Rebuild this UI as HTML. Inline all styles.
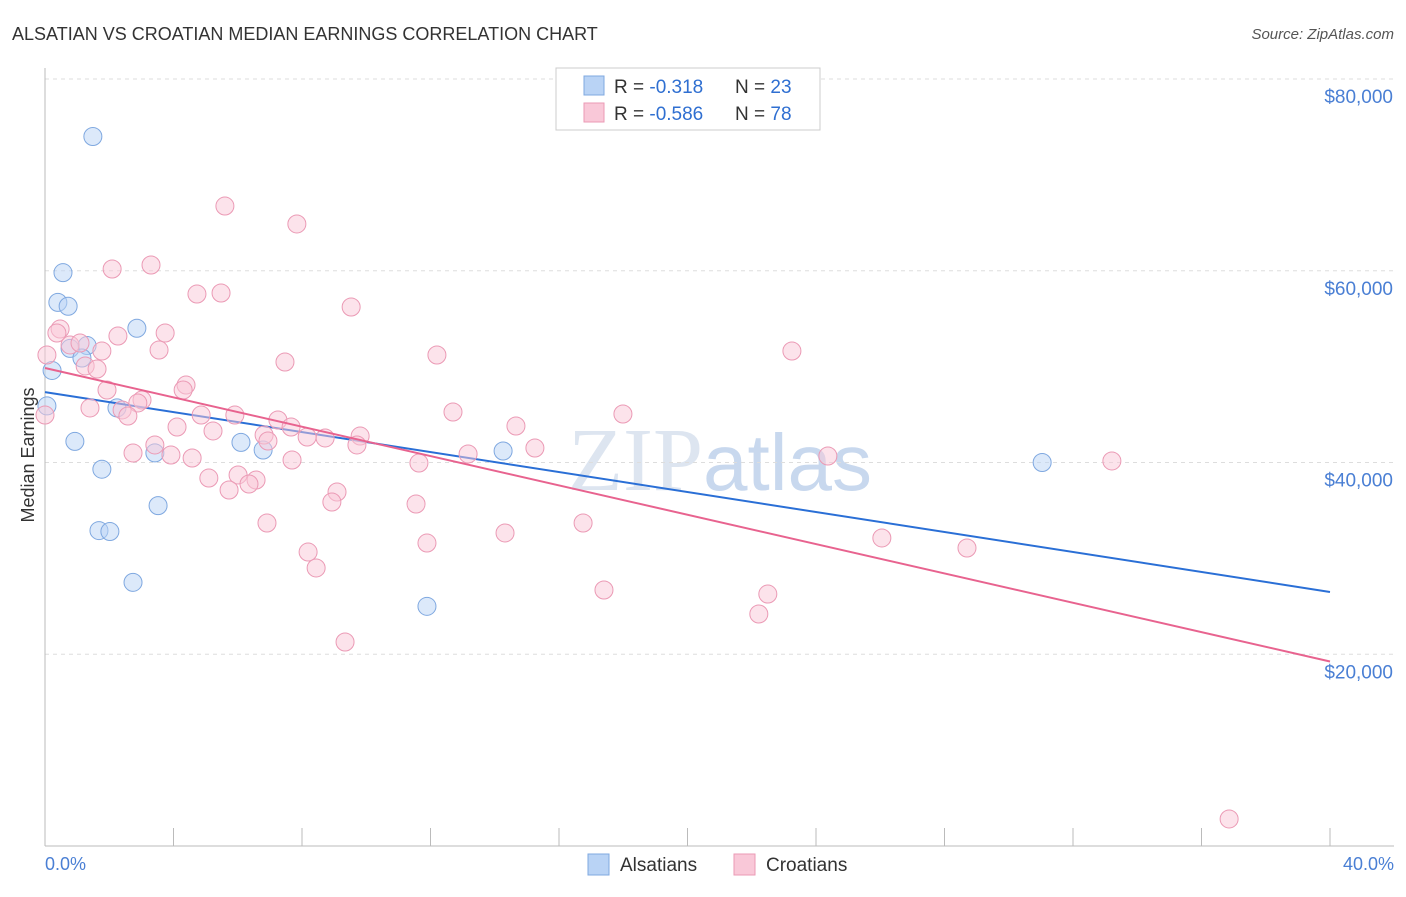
<!DOCTYPE html>
<html><head><meta charset="utf-8"><style>
body{margin:0;background:#fff;font-family:"Liberation Sans",sans-serif}
</style></head><body>
<svg id="c" width="1406" height="892" xmlns="http://www.w3.org/2000/svg">
<text x="12" y="40" font-size="18" fill="#333">ALSATIAN VS CROATIAN MEDIAN EARNINGS CORRELATION CHART</text>
<text x="1394" y="39" font-size="15" fill="#555" font-style="italic" text-anchor="end">Source: ZipAtlas.com</text>
<text x="720" y="490" font-size="90" fill="#dde5f0" text-anchor="middle" font-family="Liberation Serif">ZIP<tspan fill="#c8d8ee" font-family="Liberation Sans" font-size="80">atlas</tspan></text>
<g id="grid"></g><g id="axes"></g><g id="pts"></g>
<text transform="translate(34,455) rotate(-90)" font-size="18" fill="#333" text-anchor="middle">Median Earnings</text>
<text x="45" y="870" font-size="18" fill="#4a7fd4">0.0%</text>
<text x="1394" y="870" font-size="18" fill="#4a7fd4" text-anchor="end">40.0%</text>
<g>
<rect x="556" y="68" width="264" height="62" fill="#fff" stroke="#ccc"/>
<rect x="584" y="76" width="20" height="19" fill="#b9d3f5" stroke="#7fa8e0"/>
<rect x="584" y="103" width="20" height="19" fill="#f9c8d8" stroke="#eb9ab5"/>
<text x="614" y="93" font-size="19" fill="#333">R = <tspan fill="#2f6fd1">-0.318</tspan><tspan x="735">N = </tspan><tspan fill="#2f6fd1">23</tspan></text>
<text x="614" y="120" font-size="19" fill="#333">R = <tspan fill="#2f6fd1">-0.586</tspan><tspan x="735">N = </tspan><tspan fill="#2f6fd1">78</tspan></text>
</g>
<g>
<rect x="588" y="854" width="21" height="21" fill="#b9d3f5" stroke="#7fa8e0"/>
<text x="620" y="871" font-size="19" fill="#333">Alsatians</text>
<rect x="734" y="854" width="21" height="21" fill="#f9c8d8" stroke="#eb9ab5"/>
<text x="766" y="871" font-size="19" fill="#333">Croatians</text>
</g>
</svg>
<script>
const yTicks=[20000,40000,60000,80000];
const yTickLabels=["$20,000","$40,000","$60,000","$80,000"];
const blueX=[1.49,0.56,0.40,0.72,2.86,1.31,0.78,1.15,0.22,0.06,2.24,0.93,6.10,3.42,6.79,14.26,1.77,3.52,1.68,2.02,2.74,11.89,31.04];
const blueY=[74000,59800,56700,56300,54000,52200,51900,50900,49600,45900,45700,42200,42100,41000,41300,41200,39300,35500,32900,32800,27500,25000,40000];
const pinkX=[5.60,7.84,3.30,2.09,4.73,5.48,9.53,0.47,2.27,3.74,0.37,0.78,1.09,1.77,3.55,12.20,23.25,7.47,1.25,1.62,1.93,4.39,4.30,3.02,2.89,1.40,2.40,2.58,4.86,5.91,7.25,7.66,4.11,5.23,12.70,14.66,17.99,6.82,6.94,8.16,8.72,9.81,9.71,15.25,13.17,3.42,2.74,3.92,4.58,7.69,11.64,24.37,33.21,5.10,6.01,6.57,6.35,5.73,9.09,8.93,11.55,16.75,6.91,11.89,14.32,26.05,28.70,8.19,8.44,17.40,22.50,22.22,9.34,36.86,0,0.06];
const pinkY=[66750,64880,60600,60180,57570,57680,56220,53920,53190,53510,53510,52260,52460,51630,51730,51210,51630,50480,50070,49750,47560,48080,47560,46520,46210,45690,45480,44850,44950,44950,44430,43700,43700,43290,45270,43810,45060,42870,42240,42660,42560,42760,41830,41510,40890,41830,40990,40780,40470,40260,39950,40680,40160,38380,38700,38170,37760,37130,36920,35880,35670,33690,33690,31600,32650,32130,31080,30660,29000,26700,26280,24200,21280,2820,44950,51210];
const X=v=>45+v/40*1285, Y=v=>846-v/80000*767;
const S="http://www.w3.org/2000/svg";
function mk(t,a,p){const e=document.createElementNS(S,t);for(const k in a)e.setAttribute(k,a[k]);p.appendChild(e);return e;}
const g=document.getElementById('grid'),ax=document.getElementById('axes'),pts=document.getElementById('pts');
let tl=mk('line',{x1:45,x2:1394,y1:Y(80000),y2:Y(80000),stroke:'#ddd','stroke-dasharray':'4,4'},g);


yTicks.forEach((v,i)=>{
 const l=mk('line',{x1:45,x2:1394,y1:Y(v),y2:Y(v),stroke:'#ddd','stroke-dasharray':'4,4'},g);
 
 
 const t=mk('text',{x:1393,y:Y(v)+24,'font-size':19,fill:'#4a7fd4','text-anchor':'end'},g);
 t.textContent=yTickLabels[i];
 
 
});
let a1=mk('line',{x1:45,x2:45,y1:68,y2:846,stroke:'#bbb'},ax);


let a2=mk('line',{x1:45,x2:1394,y1:846,y2:846,stroke:'#bbb'},ax);


for(let i=0;i<=10;i++){const x=X(i*4);const t=mk('line',{x1:x,x2:x,y1:828,y2:846,stroke:'#bbb'},ax);
 
 }
function fit(xs,ys){const n=xs.length,mx=xs.reduce((a,b)=>a+b)/n,my=ys.reduce((a,b)=>a+b)/n;let sxy=0,sxx=0;xs.forEach((x,i)=>{sxy+=(x-mx)*(ys[i]-my);sxx+=(x-mx)**2});const b=sxy/sxx;return[my-b*mx,b];}
function series(xs,ys,fill,stroke,lc,name){
 xs.forEach((x,i)=>{const c=mk('circle',{cx:X(x),cy:Y(ys[i]),r:9,fill:fill,'fill-opacity':0.5,stroke:stroke,'stroke-width':1},pts);
  
  });
 const [a,b]=fit(xs,ys);
 const l=mk('line',{x1:X(0),y1:Y(a),x2:X(40),y2:Y(a+b*40),stroke:lc,'stroke-width':2},pts);
 
 
}
series(blueX,blueY,'#b9d3f5','#7fa8e0','#2a6fd6','alsatians');
series(pinkX,pinkY,'#f9c8d8','#eb9ab5','#e8638f','croatians');
</script>
</body></html>
